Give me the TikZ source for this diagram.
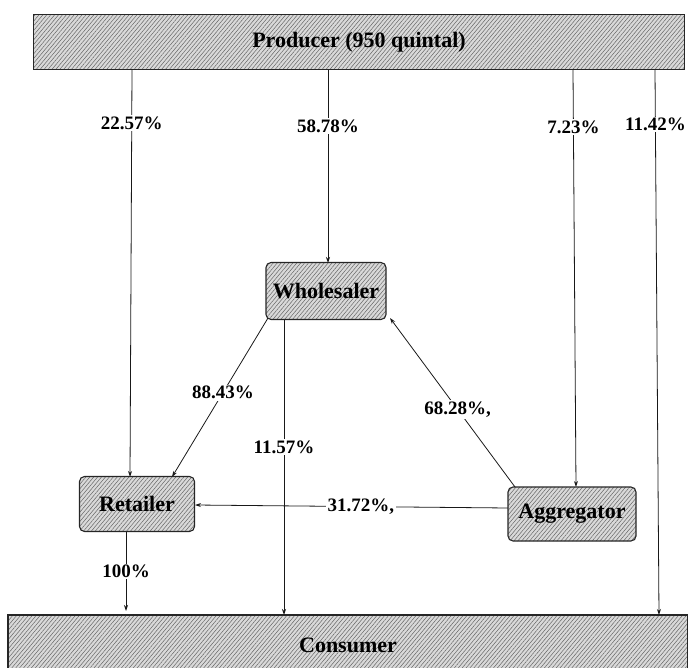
\documentclass[tikz,border=0pt]{standalone}
\usepackage{fontspec}
\setmainfont{Liberation Serif}
\usetikzlibrary{patterns.meta,arrows.meta}
\begin{document}
\begin{tikzpicture}[x=1pt,y=-1pt,
  hatch/.style={draw=black!85,line width=1.1pt,
    preaction={fill=black!15},
    pattern={Lines[angle=50,distance=3pt,line width=0.5pt]},pattern color=black!60},
  bigbox/.style={hatch,rectangle,inner sep=0pt,font=\bfseries\fontsize{22}{24}\selectfont},
  smallbox/.style={hatch,rectangle,rounded corners=5pt,inner sep=0pt,font=\bfseries\fontsize{22}{24}\selectfont},
  flow/.style={draw=black!90,line width=0.8pt,-{Stealth[length=6pt,width=4pt]}},
  pct/.style={fill=white,inner sep=1.5pt,font=\bfseries\fontsize{19}{21}\selectfont}]
\useasboundingbox (0,0) rectangle (688,668);
% boxes
\node[bigbox,minimum width=651pt,minimum height=55pt] (prod) at (359,42) {Producer (950 quintal)};
\node[bigbox,minimum width=680pt,minimum height=60pt] (cons) at (348,645) {Consumer};
\node[smallbox,minimum width=120pt,minimum height=57pt] (whol) at (326,291) {Wholesaler};
\node[smallbox,minimum width=115pt,minimum height=55pt] (ret) at (137,504) {Retailer};
\node[smallbox,minimum width=128pt,minimum height=54pt] (agg) at (572,514) {Aggregator};
% coordinates
\coordinate (p1) at (132,70);
\coordinate (r1) at (130,477);
\coordinate (p2) at (328,70);
\coordinate (w1) at (328,263);
\coordinate (p3) at (573,70);
\coordinate (a1) at (576,487);
\coordinate (p4) at (655,70);
\coordinate (c4) at (659,615);
\coordinate (w2) at (268,318);
\coordinate (r2) at (172,477);
\coordinate (w3) at (284,320);
\coordinate (c3) at (284,615);
\coordinate (a2) at (515,487);
\coordinate (w4) at (390,318);
\coordinate (a3) at (508,508);
\coordinate (r3) at (195,505);
\coordinate (r4) at (126,532);
\coordinate (c1) at (126,611);
% flows
\draw[flow] (p1) -- node[pct,pos=0.13] {22.57\%} (r1);
\draw[flow] (p2) -- node[pct,pos=0.29] {58.78\%} (w1);
\draw[flow] (p3) -- node[pct,pos=0.137] {7.23\%} (a1);
\draw[flow] (p4) -- node[pct,pos=0.1] {11.42\%} (c4);
\draw[flow] (w2) -- node[pct,pos=0.47] {88.43\%} (r2);
\draw[flow] (w3) -- node[pct,pos=0.43] {11.57\%} (c3);
\draw[flow] (a2) -- node[pct,pos=0.46] {68.28\%,} (w4);
\draw[flow] (a3) -- node[pct,pos=0.47] {31.72\%,} (r3);
\draw[flow] (r4) -- node[pct,pos=0.5] {100\%} (c1);
\end{tikzpicture}
\end{document}
